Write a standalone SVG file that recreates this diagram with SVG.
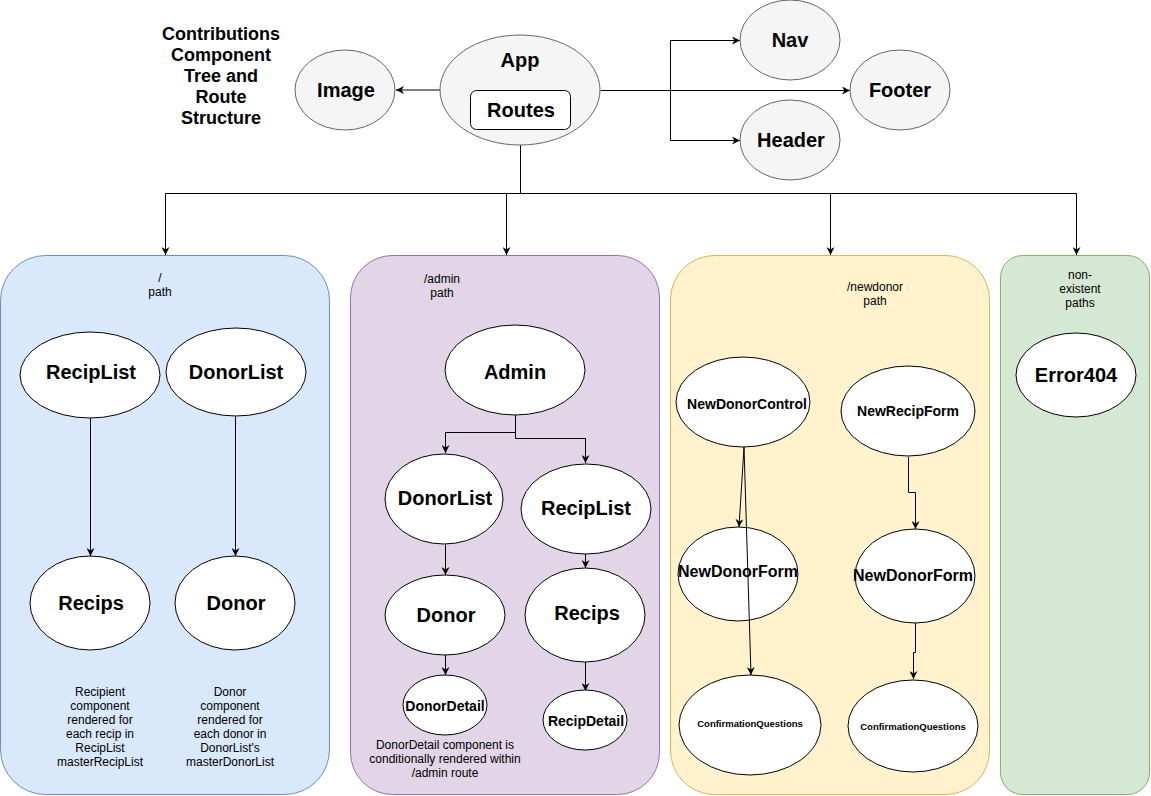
<svg xmlns="http://www.w3.org/2000/svg" width="1151" height="796" viewBox="0 0 1151 796">
<style>
text{font-family:"Liberation Sans",Arial,sans-serif;fill:#000;text-anchor:middle}
.b{font-weight:bold}
.t{font-size:18px;font-weight:bold}
.l{font-size:20px;font-weight:bold}
.s{font-size:12px}
.m{font-size:14px;font-weight:bold}
.cq{font-size:9.5px;font-weight:bold}
.g{fill:#f5f5f5;stroke:#666;stroke-width:1}
.w{fill:#fff;stroke:#000;stroke-width:1}
.e{fill:none;stroke:#000;stroke-width:1;marker-end:url(#a)}
.n{fill:none;stroke:#000;stroke-width:1}
</style>
<defs>
<marker id="a" viewBox="0 0 10 10" refX="10" refY="5" markerWidth="8" markerHeight="8" markerUnits="userSpaceOnUse" orient="auto">
<path d="M0,0 L10,5 L0,10 L3,5 z" fill="#000"/>
</marker>
</defs>
<rect width="1151" height="796" fill="#fff"/>

<g id="panel-root">
<rect x="0.5" y="255.5" width="329" height="539" rx="45" fill="#dae8fc" stroke="#6c8ebf"/>
<text class="s" x="160" y="282">/</text>
<text class="s" x="160" y="296">path</text>
<text class="s" x="100" y="696">Recipient</text>
<text class="s" x="100" y="710">component</text>
<text class="s" x="100" y="724">rendered for</text>
<text class="s" x="100" y="738">each recip in</text>
<text class="s" x="100" y="752">RecipList</text>
<text class="s" x="100" y="766">masterRecipList</text>
<text class="s" x="230" y="696">Donor</text>
<text class="s" x="230" y="710">component</text>
<text class="s" x="230" y="724">rendered for</text>
<text class="s" x="230" y="738">each donor in</text>
<text class="s" x="230" y="752">DonorList's</text>
<text class="s" x="230" y="766">masterDonorList</text>
</g>
<g id="panel-admin">
<rect x="350.5" y="255.5" width="309" height="539" rx="42" fill="#e1d5e7" stroke="#9673a6"/>
<text class="s" x="442" y="283">/admin</text>
<text class="s" x="442" y="297">path</text>
<text class="s" x="445" y="749">DonorDetail component is</text>
<text class="s" x="445" y="763">conditionally rendered within</text>
<text class="s" x="445" y="777">/admin route</text>
</g>
<g id="panel-newdonor">
<rect x="670.5" y="255.5" width="319" height="539" rx="44" fill="#fff2cc" stroke="#d6b656"/>
<text class="s" x="875" y="291">/newdonor</text>
<text class="s" x="875" y="305">path</text>
</g>
<g id="panel-404">
<rect x="1000.5" y="255.5" width="149" height="539" rx="22" fill="#d5e8d4" stroke="#82b366"/>
<text class="s" x="1080" y="279">non-</text>
<text class="s" x="1080" y="293">existent</text>
<text class="s" x="1080" y="307">paths</text>
</g>

<g id="title">
<text class="t" x="221" y="40">Contributions</text>
<text class="t" x="221" y="61">Component</text>
<text class="t" x="221" y="82">Tree and</text>
<text class="t" x="221" y="103">Route</text>
<text class="t" x="221" y="124">Structure</text>
</g>

<g id="connectors">
<path class="e" d="M440,90 L396,90"/>
<path class="e" d="M600.5,90.5 L850,90.5"/>
<path class="n" d="M670.5,90.5 L670.5,40.5"/>
<path class="e" d="M670.5,40.5 L740,40.5"/>
<path class="n" d="M670.5,90.5 L670.5,140.5"/>
<path class="e" d="M670.5,140.5 L740,140.5"/>
<path class="n" d="M520.5,130 L520.5,193.5"/>
<path class="n" d="M165.5,193.5 L1076.5,193.5"/>
<path class="e" d="M165.5,193.5 L165.5,255"/>
<path class="e" d="M506.5,193.5 L506.5,255"/>
<path class="e" d="M830.5,193.5 L830.5,255"/>
<path class="e" d="M1076.5,193.5 L1076.5,255"/>
<path class="e" d="M90.5,418 L90.5,556"/>
<path class="e" d="M235.5,416 L235.5,556"/>
<path class="n" d="M515.5,415 L515.5,438.5"/>
<path class="e" d="M515.5,432.5 L445.5,432.5 L445.5,453"/>
<path class="e" d="M515.5,438.5 L585.5,438.5 L585.5,463"/>
<path class="e" d="M445.5,543 L445.5,575"/>
<path class="e" d="M585.5,553 L585.5,568"/>
<path class="e" d="M445.5,655 L445.5,675"/>
<path class="e" d="M585.5,662 L585.5,691"/>
<path class="e" d="M744,447 L739,527"/>
<path class="e" d="M908.5,457 L908.5,492.5 L915.5,492.5 L915.5,529"/>
<path class="e" d="M915.5,623 L915.5,652.5 L913.5,652.5 L913.5,679"/>
</g>

<g id="image"><ellipse class="g" cx="345" cy="90" rx="50" ry="40"/><text class="l" x="346" y="97">Image</text></g>
<g id="app"><ellipse class="g" cx="520" cy="90" rx="80" ry="55"/><text class="l" x="520" y="67">App</text></g>
<g id="routes"><rect x="470.5" y="90.5" width="100" height="39" rx="6" fill="#fff" stroke="#000"/><text class="l" x="521" y="117">Routes</text></g>
<g id="nav"><ellipse class="g" cx="790" cy="40" rx="50" ry="40"/><text class="l" x="790" y="47">Nav</text></g>
<g id="footer"><ellipse class="g" cx="900" cy="90" rx="50" ry="40"/><text class="l" x="900" y="97">Footer</text></g>
<g id="header"><ellipse class="g" cx="790" cy="140" rx="50" ry="40"/><text class="l" x="791" y="147">Header</text></g>

<g id="reciplist"><ellipse class="w" cx="90" cy="375" rx="70" ry="43"/><text class="l" x="91" y="379">RecipList</text></g>
<g id="donorlist"><ellipse class="w" cx="236" cy="372" rx="70" ry="44"/><text class="l" x="236" y="379">DonorList</text></g>
<g id="recips"><ellipse class="w" cx="90" cy="603" rx="60" ry="47"/><text class="l" x="91" y="610">Recips</text></g>
<g id="donor"><ellipse class="w" cx="235" cy="603" rx="60" ry="47"/><text class="l" x="236" y="610">Donor</text></g>

<g id="admin"><ellipse class="w" cx="515" cy="370" rx="70" ry="45"/><text class="l" x="515" y="379">Admin</text></g>
<g id="admin-donorlist"><ellipse class="w" cx="444" cy="499" rx="59" ry="45"/><text class="l" x="445" y="505">DonorList</text></g>
<g id="admin-reciplist"><ellipse class="w" cx="586" cy="509" rx="65" ry="45"/><text class="l" x="586" y="515">RecipList</text></g>
<g id="admin-donor"><ellipse class="w" cx="445" cy="615" rx="60" ry="40"/><text class="l" x="446" y="622">Donor</text></g>
<g id="admin-recips"><ellipse class="w" cx="585" cy="615" rx="60" ry="47"/><text class="l" x="587" y="620">Recips</text></g>
<g id="donordetail"><ellipse class="w" cx="445" cy="705" rx="42" ry="30"/><text class="m" x="445" y="711">DonorDetail</text></g>
<g id="recipdetail"><ellipse class="w" cx="585" cy="720" rx="42" ry="30"/><text class="m" x="586" y="726">RecipDetail</text></g>

<g id="newdonorcontrol"><ellipse class="w" cx="743" cy="402" rx="67" ry="45"/><text class="m" x="747" y="409">NewDonorControl</text></g>
<g id="newrecipform"><ellipse class="w" cx="908" cy="411" rx="67" ry="45"/><text class="m" x="908" y="416">NewRecipForm</text></g>
<g id="newdonorform-1"><ellipse class="w" cx="738" cy="574" rx="60" ry="47"/><text class="b" style="font-size:16px" x="738" y="577">NewDonorForm</text></g>
<g id="newdonorform-2"><ellipse class="w" cx="915" cy="576" rx="60" ry="47"/><text class="b" style="font-size:16px" x="913" y="581">NewDonorForm</text></g>
<g id="confirmation-1"><ellipse class="w" cx="750" cy="725" rx="71" ry="50"/><text class="cq" x="750" y="727">ConfirmationQuestions</text></g>
<g id="confirmation-2"><ellipse class="w" cx="913" cy="726" rx="65" ry="46"/><text class="cq" x="913" y="730">ConfirmationQuestions</text></g>

<g id="error404"><ellipse class="w" cx="1076" cy="375" rx="60" ry="42"/><text class="l" x="1076" y="382">Error404</text></g>

<g id="connectors-over">
<path class="e" d="M744,447 L751,675"/>
</g>
</svg>
